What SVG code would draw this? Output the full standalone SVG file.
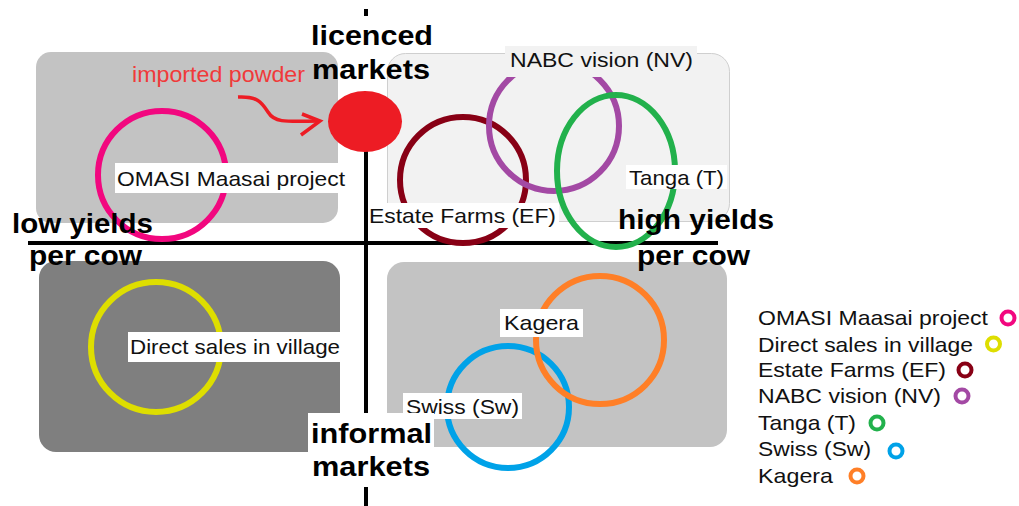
<svg xmlns="http://www.w3.org/2000/svg" width="1019" height="506" viewBox="0 0 1019 506">
<style>
text{font-family:"Liberation Sans",Arial,sans-serif;}
.ax{font-weight:bold;font-size:28px;fill:#000;}
.lb{font-size:21px;fill:#111;}
.ring{fill:none;stroke-width:6;}
.lg{fill:none;stroke-width:4;}
.axis{stroke:#000;stroke-width:4;fill:none;}
</style>
<rect width="1019" height="506" fill="#fff"/>
<g id="quadrants">
<rect id="q-top-left" x="36" y="52" width="302" height="171" rx="15" fill="#c3c3c3"/>
<rect id="q-top-right" x="387.5" y="53.5" width="342" height="168" rx="18" fill="#f2f2f2" stroke="#cfcfcf" stroke-width="1"/>
<rect id="q-bottom-left" x="39" y="261" width="301" height="191" rx="17" fill="#7f7f7f"/>
<rect id="q-bottom-right" x="387" y="262" width="340" height="185" rx="17" fill="#c3c3c3"/>
</g>
<g id="axes">
<line class="axis" x1="28" y1="243" x2="718" y2="243"/>
<line class="axis" x1="366" y1="9" x2="366" y2="16"/>
<line class="axis" x1="366" y1="145" x2="366" y2="413"/>
<line class="axis" x1="366" y1="487" x2="366" y2="506"/>
</g>
<g id="connectors">
<path d="M238,97 C258,96 262,103 268,112 C274,122 282,122 318,121" fill="none" stroke="#ed1c24" stroke-width="3.5"/>
<path d="M302,114 L320,121 L301,135" fill="none" stroke="#ed1c24" stroke-width="3.5"/>
</g>
<g id="node-imported-powder">
<ellipse cx="365" cy="121.5" rx="37" ry="30.5" fill="#ed1c24"/>
<text x="132" y="82" font-size="22" fill="#f03a3a" textLength="173" lengthAdjust="spacingAndGlyphs">imported powder</text>
</g>
<g id="node-omasi">
<circle class="ring" cx="162" cy="175" r="64" stroke="#f2077f"/>
<rect x="115" y="163" width="232" height="30" fill="#fff"/>
<text class="lb" x="117" y="186" textLength="228" lengthAdjust="spacingAndGlyphs">OMASI Maasai project</text>
</g>
<g id="node-estate-farms">
<circle class="ring" cx="463" cy="180" r="63" stroke="#880015"/>
</g>
<g id="node-nabc">
<circle class="ring" cx="554" cy="126" r="65" stroke="#a349a4"/>
<rect x="505" y="46" width="192" height="31" fill="#f2f2f2"/>
<text class="lb" x="510" y="67" textLength="183" lengthAdjust="spacingAndGlyphs">NABC vision (NV)</text>
</g>
<g id="node-tanga">
<ellipse class="ring" cx="616" cy="171" rx="59" ry="76" stroke="#22b14c"/>
<rect x="626" y="165" width="101" height="24" fill="#fff"/>
<text class="lb" x="629" y="185" textLength="95" lengthAdjust="spacingAndGlyphs">Tanga (T)</text>
</g>
<g id="label-estate-farms">
<rect x="369" y="203" width="190" height="25" fill="#fff"/>
<text class="lb" x="369" y="223" textLength="187" lengthAdjust="spacingAndGlyphs">Estate Farms (EF)</text>
</g>
<g id="node-direct-sales">
<circle class="ring" cx="156" cy="347" r="65" stroke="#dede00"/>
<rect x="128" y="332" width="214" height="30" fill="#fff"/>
<text class="lb" x="130" y="354" textLength="210" lengthAdjust="spacingAndGlyphs">Direct sales in village</text>
</g>
<g id="node-swiss">
<circle class="ring" cx="508" cy="407" r="61" stroke="#00a2e8"/>
</g>
<g id="node-kagera">
<circle class="ring" cx="600" cy="340" r="64" stroke="#ff7f27"/>
<rect x="500" y="309" width="83" height="28" fill="#fff"/>
<text class="lb" x="504" y="330" textLength="75" lengthAdjust="spacingAndGlyphs">Kagera</text>
</g>
<g id="label-swiss">
<rect x="403" y="393" width="119" height="26" fill="#fff"/>
<text class="lb" x="406" y="414" textLength="113" lengthAdjust="spacingAndGlyphs">Swiss (Sw)</text>
</g>
<g id="axis-labels">
<text class="ax" x="311" y="45" textLength="122" lengthAdjust="spacingAndGlyphs">licenced</text>
<text class="ax" x="312" y="79" textLength="118" lengthAdjust="spacingAndGlyphs">markets</text>
<text class="ax" x="12" y="233" textLength="141" lengthAdjust="spacingAndGlyphs">low yields</text>
<text class="ax" x="29" y="265" textLength="113" lengthAdjust="spacingAndGlyphs">per cow</text>
<text class="ax" x="618" y="229" textLength="156" lengthAdjust="spacingAndGlyphs">high yields</text>
<text class="ax" x="637" y="265" textLength="113" lengthAdjust="spacingAndGlyphs">per cow</text>
<rect x="308" y="413" width="126" height="73" fill="#fff"/>
<text class="ax" x="311" y="443" textLength="121" lengthAdjust="spacingAndGlyphs">informal</text>
<text class="ax" x="312" y="476" textLength="118" lengthAdjust="spacingAndGlyphs">markets</text>
</g>
<g id="legend">
<text class="lb" x="758" y="325" textLength="230" lengthAdjust="spacingAndGlyphs">OMASI Maasai project</text>
<circle class="lg" cx="1008" cy="318" r="6.5" stroke="#f2077f"/>
<text class="lb" x="758" y="352" textLength="215" lengthAdjust="spacingAndGlyphs">Direct sales in village</text>
<circle class="lg" cx="993.5" cy="344" r="6.5" stroke="#dede00"/>
<text class="lb" x="758" y="377" textLength="188" lengthAdjust="spacingAndGlyphs">Estate Farms (EF)</text>
<circle class="lg" cx="965" cy="370" r="6.5" stroke="#880015"/>
<text class="lb" x="758" y="403" textLength="183" lengthAdjust="spacingAndGlyphs">NABC vision (NV)</text>
<circle class="lg" cx="962" cy="396" r="6.5" stroke="#a349a4"/>
<text class="lb" x="758" y="430" textLength="98" lengthAdjust="spacingAndGlyphs">Tanga (T)</text>
<circle class="lg" cx="877" cy="423" r="6.5" stroke="#22b14c"/>
<text class="lb" x="758" y="456" textLength="113" lengthAdjust="spacingAndGlyphs">Swiss (Sw)</text>
<circle class="lg" cx="896" cy="451" r="6.5" stroke="#00a2e8"/>
<text class="lb" x="758" y="483" textLength="75" lengthAdjust="spacingAndGlyphs">Kagera</text>
<circle class="lg" cx="857" cy="476" r="6.5" stroke="#ff7f27"/>
</g>
</svg>
